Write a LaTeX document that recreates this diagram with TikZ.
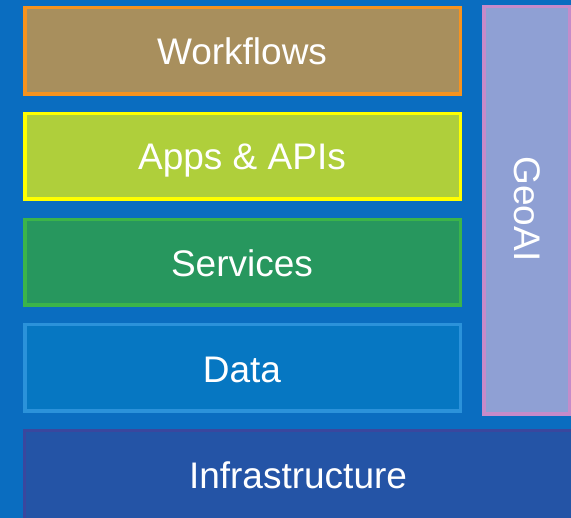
\documentclass[tikz,border=0pt]{standalone}
\usepackage{fontspec}
\setmainfont{Liberation Sans}
\definecolor{bg}{HTML}{0A6DC0}
\definecolor{wfF}{HTML}{A88F5D}\definecolor{wfB}{HTML}{F7931E}
\definecolor{apF}{HTML}{AFCF3B}\definecolor{apB}{HTML}{FFFF00}
\definecolor{svF}{HTML}{27975E}\definecolor{svB}{HTML}{3BB44A}
\definecolor{daF}{HTML}{0677C2}\definecolor{daB}{HTML}{2B92DA}
\definecolor{gaF}{HTML}{8FA0D4}\definecolor{gaB}{HTML}{C68BC9}
\definecolor{inF}{HTML}{2454A6}\definecolor{inB}{HTML}{3A479E}
\tikzset{
  layer/.style={line width=3.5pt},
  lbl/.style={text=white,font=\fontsize{37}{40}\selectfont,inner sep=0pt,anchor=base}
}
\begin{document}
\begin{tikzpicture}[x=1pt,y=-1pt]
\fill[bg] (0,0) rectangle (571,518);
\useasboundingbox (0,0) rectangle (571,518);
\draw[layer,draw=wfB,fill=wfF] (24.75,7.75) rectangle (460.25,94.25);
\draw[layer,draw=apB,fill=apF] (24.75,113.75) rectangle (460.25,199.25);
\draw[layer,draw=svB,fill=svF] (24.75,219.75) rectangle (460.25,305.25);
\draw[layer,draw=daB,fill=daF] (24.75,324.75) rectangle (460.25,411.25);
\draw[layer,draw=gaB,fill=gaF] (483.75,6.75) rectangle (569.25,414.25);
\fill[inF] (23,429) rectangle (571,518);
\draw[inB,line width=3pt] (23,430.5) -- (571,430.5);
\draw[inB,line width=3pt] (24.5,430) -- (24.5,518);
\node[lbl] (wf) at (242,65) {Workflows};
\node[lbl] (ap) at (242,170) {Apps \& APIs};
\node[lbl] (sv) at (242,276.5) {Services};
\node[lbl] (da) at (242,382.5) {Data};
\node[lbl] (in) at (298,488.5) {Infrastructure};
\node[lbl,rotate=-90] (ga) at (514,209) {GeoAI};
\end{tikzpicture}
\end{document}
